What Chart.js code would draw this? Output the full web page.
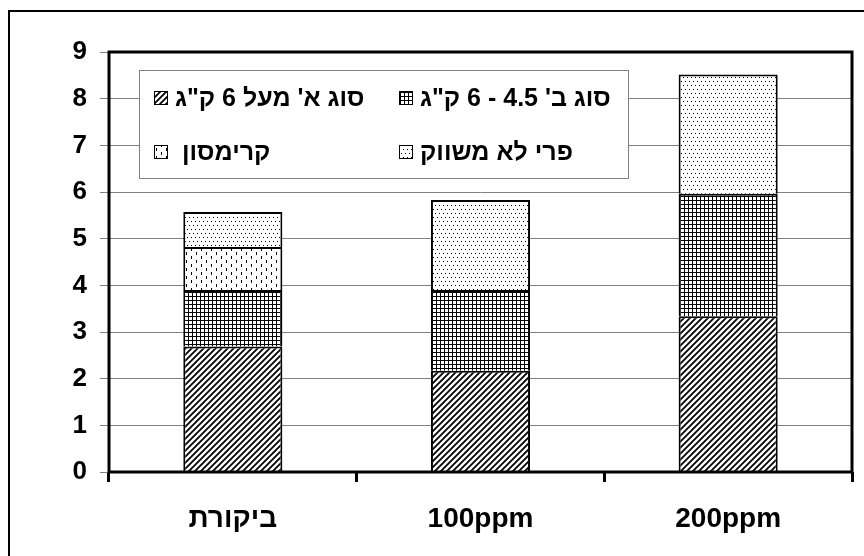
<!DOCTYPE html>
<html>
<head>
<meta charset="utf-8">
<script src="https://cdn.jsdelivr.net/npm/chart.js@4"></script>
<style>
  html, body { margin: 0; padding: 0; background: #fff; }
  #wrap { width: 864px; height: 556px; }
</style>
</head>
<body>
<div id="wrap"><canvas id="myChart" width="864" height="556"></canvas></div>
<script>
// data
const categories = ['ביקורת', '100ppm', '200ppm'];
const seriesNames = ['סוג א\' מעל 6 ק"ג', 'סוג ב\' 4.5 - 6 ק"ג', 'קרימסון ', 'פרי לא משווק'];
const gradeA = [2.69, 2.17, 3.34];
const gradeB = [1.21, 1.73, 2.62];
const crimson = [0.92, 0, 0];
const unmarketed = [0.75, 1.93, 2.56];
const yTicks = [0, 1, 2, 3, 4, 5, 6, 7, 8, 9];

const FONT = '"Liberation Sans", Arial, "DejaVu Sans", sans-serif';

// hatch patterns, like the old excel fills
function makePattern(w, h, draw) {
  const c = document.createElement('canvas');
  c.width = w;
  c.height = h;
  const g = c.getContext('2d');
  g.fillStyle = '#fff';
  g.fillRect(0, 0, w, h);
  g.fillStyle = '#000';
  g.strokeStyle = '#000';
  draw(g);
  return document.createElement('canvas').getContext('2d').createPattern(c, 'repeat');
}

const diagonal = makePattern(6, 6, (g) => {
  g.lineWidth = 1.8;
  g.beginPath();
  g.moveTo(-1, 7); g.lineTo(7, -1);
  g.moveTo(-4, 4); g.lineTo(4, -4);
  g.moveTo(2, 10); g.lineTo(10, 2);
  g.stroke();
});
const grid = makePattern(4, 4, (g) => {
  g.fillRect(0, 0, 4, 1);
  g.fillRect(0, 0, 1, 4);
});
const dashes = makePattern(10, 8, (g) => {
  g.fillRect(1, 0, 1, 3);
  g.fillRect(6, 4, 1, 3);
});
const dots = makePattern(8, 8, (g) => {
  g.fillRect(1, 1, 1, 1);
  g.fillRect(5, 1, 1, 1);
  g.fillRect(3, 5, 1, 1);
  g.fillRect(7, 5, 1, 1);
});

const fills = [diagonal, grid, dashes, dots];
const values = [gradeA, gradeB, crimson, unmarketed];

const datasets = values.map((v, i) => ({
  label: seriesNames[i],
  data: v,
  backgroundColor: fills[i],
  borderColor: '#000',
  borderWidth: 2,
  borderSkipped: 'bottom',
  categoryPercentage: 1,
  barPercentage: 0.4
}));

// outer frame + plot frame + legend box
const framePlugin = {
  id: 'frame',
  beforeDraw(chart) {
    const ctx = chart.ctx;
    ctx.save();
    ctx.fillStyle = '#fff';
    ctx.fillRect(0, 0, chart.width, chart.height);
    ctx.strokeStyle = '#000';
    ctx.lineWidth = 2;
    ctx.beginPath();
    ctx.moveTo(9, chart.height);
    ctx.lineTo(9, 11);
    ctx.lineTo(chart.width, 11);
    ctx.stroke();
    ctx.restore();
  },
  afterDraw(chart) {
    const ctx = chart.ctx;
    const a = chart.chartArea;
    ctx.save();
    ctx.strokeStyle = '#000';
    ctx.lineWidth = 3;
    ctx.strokeRect(a.left, a.top, a.right - a.left, a.bottom - a.top);

    // legend
    ctx.fillStyle = '#fff';
    ctx.fillRect(139, 70, 489, 108);
    ctx.strokeStyle = '#808080';
    ctx.lineWidth = 1;
    ctx.strokeRect(139.5, 70.5, 489, 108);

    const cols = [154, 399];
    const rows = [98, 152];
    ctx.font = 'bold 25px ' + FONT;
    ctx.textBaseline = 'middle';
    ctx.textAlign = 'left';
    ctx.direction = 'rtl';
    chart.data.datasets.forEach((ds, i) => {
      const x = cols[i % 2];
      const y = rows[Math.floor(i / 2)];
      ctx.fillStyle = ds.backgroundColor;
      ctx.fillRect(x, y - 7, 14, 14);
      ctx.strokeStyle = '#000';
      ctx.strokeRect(x + 0.5, y - 6.5, 13, 13);
      ctx.fillStyle = '#000';
      ctx.fillText(ds.label, x + 21, y + 1);
    });
    ctx.restore();
  }
};

new Chart(document.getElementById('myChart'), {
  type: 'bar',
  data: { labels: categories, datasets },
  options: {
    responsive: false,
    animation: false,
    layout: { padding: { left: 0, right: 12, top: 52, bottom: 0 } },
    plugins: {
      legend: { display: false },
      tooltip: { enabled: false }
    },
    scales: {
      x: {
        stacked: true,
        border: { display: false },
        grid: {
          offset: true,
          drawOnChartArea: false,
          color: '#000',
          lineWidth: 3,
          tickLength: 10
        },
        ticks: {
          color: '#000',
          padding: 20,
          maxRotation: 0,
          font: { family: FONT, size: 28, weight: 'bold' }
        },
        afterFit(scale) { scale.height = 84; }
      },
      y: {
        stacked: true,
        min: yTicks[0],
        max: yTicks[yTicks.length - 1],
        border: { display: false },
        grid: {
          color: '#808080',
          lineWidth: 1,
          tickLength: 9
        },
        afterBuildTicks(scale) {
          scale.ticks = yTicks.map((v) => ({ value: v }));
        },
        ticks: {
          color: '#000',
          padding: 13,
          font: { family: FONT, size: 26, weight: 'bold' }
        },
        afterFit(scale) { scale.width = 109; }
      }
    }
  },
  plugins: [framePlugin]
});
</script>
</body>
</html>
